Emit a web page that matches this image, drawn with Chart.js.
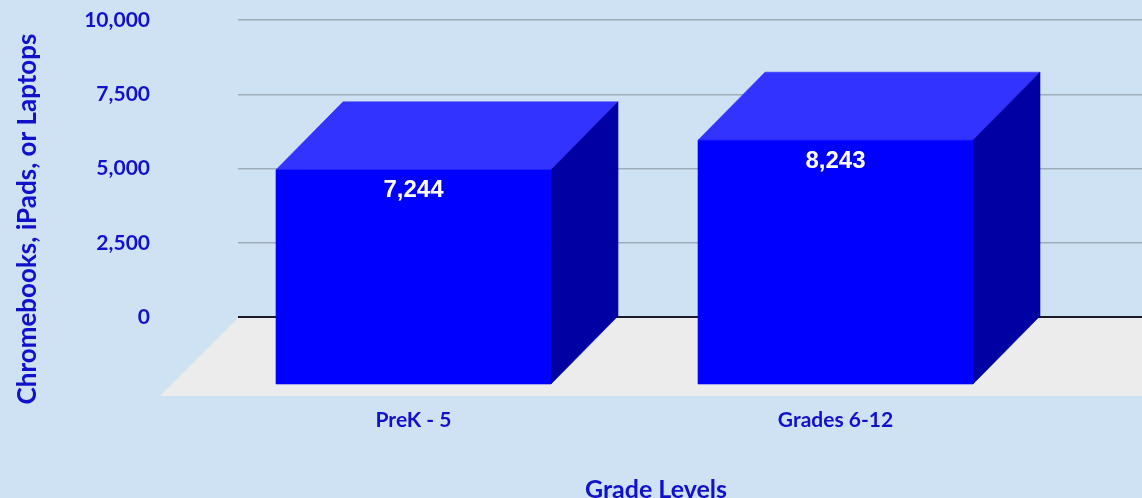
<!DOCTYPE html>
<html><head><meta charset="utf-8">
<script src="https://cdn.jsdelivr.net/npm/chart.js@4/dist/chart.umd.min.js"></script>
<style>html,body{margin:0;padding:0;background:#cfe2f3;overflow:hidden}#wrap{width:1142px;height:498px;position:relative}</style>
</head><body><div id="wrap"><canvas id="c"></canvas></div>
<script>
const categories = ['PreK - 5', 'Grades 6-12'];
const devices = [7244, 8243];
const yTicks = [0, 2500, 5000, 7500, 10000];
const yAxisTitle = 'Chromebooks, iPads, or Laptops';
const xAxisTitle = 'Grade Levels';

const TEXT = '#1111cc';
const DX = 67, DY = 68, FLOOR = 78;

const box3d = {
  id: 'box3d',
  beforeDatasetsDraw(chart) {
    const ctx = chart.ctx, a = chart.chartArea;
    const b0 = chart.scales.y.getPixelForValue(0) + 1;
    ctx.save();
    ctx.fillStyle = '#ececec';
    ctx.beginPath();
    ctx.moveTo(a.left, b0);
    ctx.lineTo(a.right + FLOOR, b0);
    ctx.lineTo(a.right, b0 + FLOOR);
    ctx.lineTo(a.left - FLOOR, b0 + FLOOR);
    ctx.closePath();
    ctx.fill();
    ctx.restore();
  },
  afterDatasetsDraw(chart) {
    const ctx = chart.ctx;
    const meta = chart.getDatasetMeta(0);
    meta.data.forEach((bar, i) => {
      const {x, y, base, width} = bar.getProps(['x', 'y', 'base', 'width'], true);
      const l = x - width / 2, r = x + width / 2;
      ctx.save();
      const poly = (pts, c) => {
        ctx.fillStyle = c; ctx.strokeStyle = c; ctx.lineWidth = 0.6;
        ctx.beginPath(); ctx.moveTo(pts[0][0], pts[0][1]);
        for (let k = 1; k < pts.length; k++) ctx.lineTo(pts[k][0], pts[k][1]);
        ctx.closePath(); ctx.fill(); ctx.stroke();
      };
      poly([[l, y], [r, y], [r - DX, y + DY], [l - DX, y + DY]], '#3333ff');
      poly([[r, y], [r, base], [r - DX, base + DY], [r - DX, y + DY]], '#0000a3');
      poly([[l - DX, y + DY], [r - DX, y + DY], [r - DX, base + DY], [l - DX, base + DY]], '#0000ff');
      ctx.fillStyle = '#ffffff';
      ctx.font = 'bold 24px "Liberation Sans", Arial, sans-serif';
      ctx.textAlign = 'center'; ctx.textBaseline = 'middle';
      ctx.fillText(devices[i].toLocaleString('en-US'), x - DX, y + DY + 21);
      ctx.restore();
    });
  },
  afterDraw(chart) {
    const ctx = chart.ctx;
    ctx.save();
    ctx.fillStyle = TEXT;
    ctx.textAlign = 'center'; ctx.textBaseline = 'alphabetic';
    ctx.font = 'bold 25px Lato';
    ctx.fillText(xAxisTitle, 656, 498);
    ctx.translate(36, 219);
    ctx.rotate(-Math.PI / 2);
    ctx.font = 'bold 26px Lato';
    ctx.fillText(yAxisTitle, 0, 0);
    ctx.restore();
  }
};

Chart.defaults.font.family = 'Lato';

new Chart(document.getElementById('c'), {
  type: 'bar',
  data: {
    datasets: [{
      label: yAxisTitle,
      data: devices.map((v, i) => ({x: i, y: v})),
      backgroundColor: 'rgba(0,0,0,0)',
      borderWidth: 0,
      barThickness: 275
    }]
  },
  options: {
    responsive: true,
    maintainAspectRatio: false,
    animation: false,
    layout: {padding: {top: 20, left: 0, right: 0, bottom: 0}},
    plugins: {legend: {display: false}, tooltip: {enabled: false}},
    scales: {
      x: {
        type: 'linear',
        offset: false,
        min: -0.5746,
        max: 1.5675,
        afterBuildTicks: s => { s.ticks = categories.map((c, i) => ({value: i})); },
        afterFit: s => { s.height = 181; s.paddingLeft = 0; s.paddingRight = 0; },
        grid: {display: false, drawTicks: false, offset: false},
        border: {display: false},
        ticks: {
          callback: v => categories[v],
          color: TEXT,
          font: {size: 21, weight: 'bold'},
          padding: 91,
          labelOffset: -DX,
          maxRotation: 0,
          autoSkip: false
        },
        title: {display: false, text: xAxisTitle}
      },
      y: {
        min: yTicks[0],
        max: yTicks[yTicks.length - 1],
        afterBuildTicks: s => { s.ticks = yTicks.map(v => ({value: v})); },
        afterFit: s => { s.width = 238; s.paddingTop = 0; s.paddingBottom = 0; },
        grid: {
          drawTicks: false,
          color: c => c.tick && c.tick.value === 0 ? '#1a1a2a' : '#9eacb9',
          lineWidth: c => c.tick && c.tick.value === 0 ? 2 : 1.5
        },
        border: {display: false},
        ticks: {
          color: TEXT,
          font: {size: 21, weight: 'bold'},
          padding: 88
        },
        title: {display: false, text: yAxisTitle}
      }
    }
  },
  plugins: [box3d]
});
</script>
</body></html>
